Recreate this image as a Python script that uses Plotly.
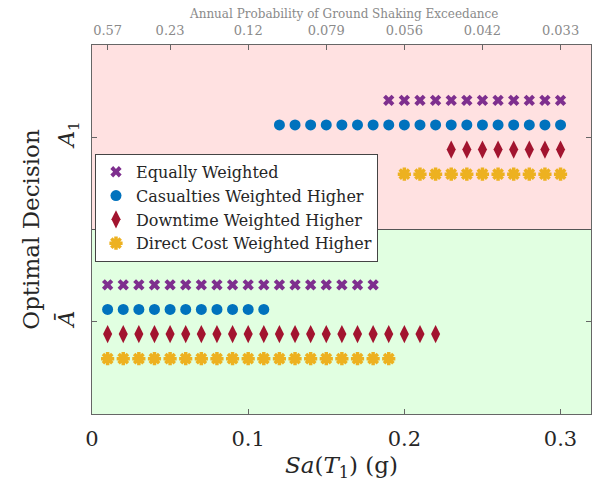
import plotly.graph_objects as go

# ---------------- data ----------------
series_names = ["Equally Weighted", "Casualties Weighted Higher",
                "Downtime Weighted Higher", "Direct Cost Weighted Higher"]

# Sa(T1) values where the optimal decision is A-bar (decision 0)
eq_abar = [0.01, 0.02, 0.03, 0.04, 0.05, 0.06, 0.07, 0.08, 0.09, 0.10,
           0.11, 0.12, 0.13, 0.14, 0.15, 0.16, 0.17, 0.18]
cas_abar = [0.01, 0.02, 0.03, 0.04, 0.05, 0.06, 0.07, 0.08, 0.09, 0.10, 0.11]
down_abar = [0.01, 0.02, 0.03, 0.04, 0.05, 0.06, 0.07, 0.08, 0.09, 0.10,
             0.11, 0.12, 0.13, 0.14, 0.15, 0.16, 0.17, 0.18, 0.19, 0.20,
             0.21, 0.22]
cost_abar = [0.01, 0.02, 0.03, 0.04, 0.05, 0.06, 0.07, 0.08, 0.09, 0.10,
             0.11, 0.12, 0.13, 0.14, 0.15, 0.16, 0.17, 0.18, 0.19]

# Sa(T1) values where the optimal decision is A1 (decision 1)
eq_a1 = [0.19, 0.20, 0.21, 0.22, 0.23, 0.24, 0.25, 0.26, 0.27, 0.28, 0.29, 0.30]
cas_a1 = [0.12, 0.13, 0.14, 0.15, 0.16, 0.17, 0.18, 0.19, 0.20, 0.21,
          0.22, 0.23, 0.24, 0.25, 0.26, 0.27, 0.28, 0.29, 0.30]
down_a1 = [0.23, 0.24, 0.25, 0.26, 0.27, 0.28, 0.29, 0.30]
cost_a1 = [0.20, 0.21, 0.22, 0.23, 0.24, 0.25, 0.26, 0.27, 0.28, 0.29, 0.30]

decision_ticktext = ["<i>Ā</i>", "<i>A</i><sub>1</sub>"]
bottom_tickvals = [0, 0.1, 0.2, 0.3]
bottom_ticktext = ["0", "0.1", "0.2", "0.3"]
top_tickvals = [0.01, 0.05, 0.10, 0.15, 0.20, 0.25, 0.30]
top_ticktext = ["0.57", "0.23", "0.12", "0.079", "0.056", "0.042", "0.033"]

# ---------------- styling ----------------
FONT = "DejaVu Serif, Liberation Serif, serif"
colors = ["#7E2F8E", "#0072BD", "#A2142F", "#EDB120"]
offsets = [0.2, 0.0667, -0.0667, -0.2]
markers = [
    dict(symbol="x", size=10, line=dict(width=0)),
    dict(symbol="circle", size=11, line=dict(width=0)),
    dict(symbol="diamond-tall", size=13, line=dict(width=0)),
    dict(symbol="asterisk-open", size=11, line=dict(width=3.5)),
]

abar_sets = [eq_abar, cas_abar, down_abar, cost_abar]
a1_sets = [eq_a1, cas_a1, down_a1, cost_a1]

fig = go.Figure()

for i, name in enumerate(series_names):
    xs = abar_sets[i] + a1_sets[i]
    ys = [0 + offsets[i]] * len(abar_sets[i]) + [1 + offsets[i]] * len(a1_sets[i])
    m = dict(markers[i])
    m["color"] = colors[i]
    m["line"] = dict(m["line"], color=colors[i])
    fig.add_trace(go.Scatter(x=xs, y=ys, mode="markers", name=name,
                             marker=m, xaxis="x", yaxis="y"))

# invisible trace to activate top axis
fig.add_trace(go.Scatter(x=top_tickvals, y=[0] * len(top_tickvals), mode="markers",
                         marker=dict(opacity=0), showlegend=False,
                         hoverinfo="skip", xaxis="x2", yaxis="y"))

# background regions
fig.add_shape(type="rect", xref="paper", yref="y", x0=0, x1=1, y0=0.5, y1=1.5,
              fillcolor="#FFE1E1", line=dict(width=0), layer="below")
fig.add_shape(type="rect", xref="paper", yref="y", x0=0, x1=1, y0=-0.5, y1=0.5,
              fillcolor="#E1FFE1", line=dict(width=0), layer="below")
fig.add_shape(type="line", xref="paper", yref="y", x0=0, x1=1, y0=0.5, y1=0.5,
              line=dict(color="#555555", width=1))

# top axis title
fig.add_annotation(text="Annual Probability of Ground Shaking Exceedance",
                   xref="paper", yref="paper", x=0.504, y=1.0, yshift=31,
                   xanchor="center", yanchor="middle", showarrow=False,
                   font=dict(size=12, family=FONT, color="#8a8a8a"))

XR = [0, 0.3195]
axis_line = "#666666"

fig.update_layout(
    width=592, height=490,
    margin=dict(l=92, r=1, t=45, b=76),
    paper_bgcolor="white", plot_bgcolor="white",
    font=dict(family=FONT, color="#262626"),
    showlegend=True,
    legend=dict(x=0.006, y=0.705, xanchor="left", yanchor="top",
                bgcolor="white", bordercolor="#444444", borderwidth=1,
                font=dict(family=FONT, size=16, color="#262626"),
                tracegroupgap=0, itemwidth=30),
    xaxis=dict(range=XR, tickvals=bottom_tickvals, ticktext=bottom_ticktext,
               ticks="inside", ticklen=5, tickcolor=axis_line, automargin=False,
               showline=True, linecolor=axis_line, linewidth=1, mirror=True,
               showgrid=False, zeroline=False, ticklabelstandoff=6,
               tickfont=dict(size=21, family=FONT, color="#262626"),
               title=dict(text="<i>Sa</i>(<i>T</i><sub>1</sub>) (g)",
                          font=dict(size=23, family=FONT, color="#262626"),
                          standoff=6)),
    xaxis2=dict(range=XR, overlaying="x", side="top", anchor="y",
                tickvals=top_tickvals, ticktext=top_ticktext, automargin=False,
                ticks="inside", ticklen=5, tickcolor=axis_line,
                showline=False, showgrid=False, zeroline=False,
                ticklabelstandoff=6,
                tickfont=dict(size=13, family=FONT, color="#8a8a8a")),
    yaxis=dict(range=[-0.5, 1.5], tickvals=[0, 1], ticktext=decision_ticktext,
               tickangle=-90, ticks="inside", ticklen=5, tickcolor=axis_line,
               automargin=False, ticklabelstandoff=8,
               showline=True, linecolor=axis_line, linewidth=1, mirror="ticks",
               showgrid=False, zeroline=False,
               tickfont=dict(size=22, family=FONT, color="#262626"),
               title=dict(text="Optimal Decision",
                          font=dict(size=23, family=FONT, color="#262626"),
                          standoff=8)),
)

fig.write_html("out.html", config={"displayModeBar": False},
               post_script="document.body.style.margin='0';"
                           "document.body.style.overflow='hidden';")
